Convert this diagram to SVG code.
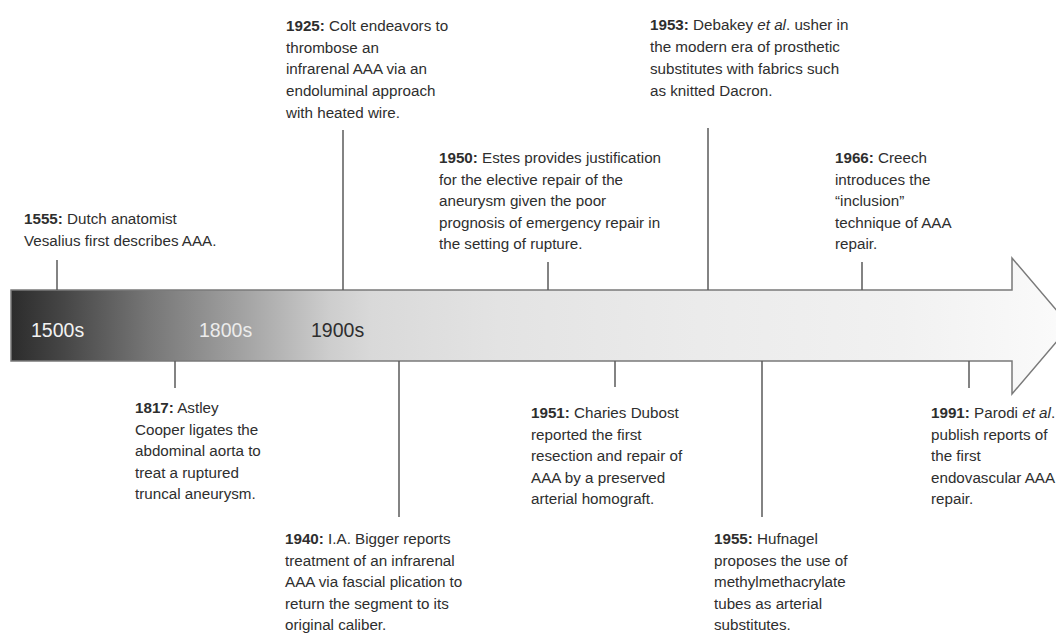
<svg xmlns="http://www.w3.org/2000/svg" width="1056" height="633" viewBox="0 0 1056 633">
<defs>
<linearGradient id="bar" gradientUnits="userSpaceOnUse" x1="11" y1="0" x2="1070" y2="0">
<stop offset="0" stop-color="#2c2c2c"/>
<stop offset="0.05" stop-color="#464646"/>
<stop offset="0.13" stop-color="#767676"/>
<stop offset="0.22" stop-color="#a3a3a3"/>
<stop offset="0.30" stop-color="#cdcdcd"/>
<stop offset="0.34" stop-color="#d9d9d9"/>
<stop offset="0.46" stop-color="#e3e3e3"/>
<stop offset="0.65" stop-color="#ebebeb"/>
<stop offset="0.84" stop-color="#f1f1f1"/>
<stop offset="0.94" stop-color="#f7f7f7"/>
<stop offset="1" stop-color="#fbfbfb"/>
</linearGradient>
<style>
.t{font-family:"Liberation Sans",Arial,sans-serif;font-size:15.2px;fill:#2e2e2e}
.b{font-weight:bold}
.i{font-style:italic}
.era{font-family:"Liberation Sans",Arial,sans-serif;font-size:19.5px}
.tick{stroke:#5a5a5a;stroke-width:1.5;fill:none}
</style>
</defs>
<rect width="1056" height="633" fill="#ffffff"/>
<g id="timeline-arrow">
<path d="M11,290 H1012 V258 L1070,326 L1012,394 V361 H11 Z" fill="url(#bar)" stroke="#7a7a7a" stroke-width="1.5"/>
<text class="era" x="31" y="337" fill="#f2f2f2">1500s</text>
<text class="era" x="199" y="337" fill="#ececec">1800s</text>
<text class="era" x="311" y="337" fill="#2e2e2e">1900s</text>
</g>
<g id="connectors">
<line class="tick" x1="57" y1="260" x2="57" y2="290"/>
<line class="tick" x1="343" y1="130" x2="343" y2="290"/>
<line class="tick" x1="548" y1="262" x2="548" y2="290"/>
<line class="tick" x1="708" y1="128" x2="708" y2="290"/>
<line class="tick" x1="862" y1="262" x2="862" y2="290"/>
<line class="tick" x1="175" y1="361" x2="175" y2="388"/>
<line class="tick" x1="399" y1="361" x2="399" y2="517"/>
<line class="tick" x1="615" y1="361" x2="615" y2="387"/>
<line class="tick" x1="762" y1="361" x2="762" y2="517"/>
<line class="tick" x1="969" y1="361" x2="969" y2="388"/>
</g>
<g id="e1555">
<text class="t" x="24" y="224"><tspan class="b">1555:</tspan> Dutch anatomist</text>
<text class="t" x="24" y="246">Vesalius first describes AAA.</text>
</g>
<g id="e1817">
<text class="t" x="135" y="413"><tspan class="b">1817:</tspan> Astley</text>
<text class="t" x="135" y="435">Cooper ligates the</text>
<text class="t" x="135" y="456">abdominal aorta to</text>
<text class="t" x="135" y="478">treat a ruptured</text>
<text class="t" x="135" y="499">truncal aneurysm.</text>
</g>
<g id="e1925">
<text class="t" x="286" y="31"><tspan class="b">1925:</tspan> Colt endeavors to</text>
<text class="t" x="286" y="53">thrombose an</text>
<text class="t" x="286" y="74">infrarenal AAA via an</text>
<text class="t" x="286" y="96">endoluminal approach</text>
<text class="t" x="286" y="118">with heated wire.</text>
</g>
<g id="e1940">
<text class="t" x="285" y="544"><tspan class="b">1940:</tspan> I.A. Bigger reports</text>
<text class="t" x="285" y="566">treatment of an infrarenal</text>
<text class="t" x="285" y="587">AAA via fascial plication to</text>
<text class="t" x="285" y="609">return the segment to its</text>
<text class="t" x="285" y="630">original caliber.</text>
</g>
<g id="e1950">
<text class="t" x="439" y="163"><tspan class="b">1950:</tspan> Estes provides justification</text>
<text class="t" x="439" y="185">for the elective repair of the</text>
<text class="t" x="439" y="206">aneurysm given the poor</text>
<text class="t" x="439" y="228">prognosis of emergency repair in</text>
<text class="t" x="439" y="249">the setting of rupture.</text>
</g>
<g id="e1951">
<text class="t" x="531" y="418"><tspan class="b">1951:</tspan> Charies Dubost</text>
<text class="t" x="531" y="440">reported the first</text>
<text class="t" x="531" y="461">resection and repair of</text>
<text class="t" x="531" y="483">AAA by a preserved</text>
<text class="t" x="531" y="504">arterial homograft.</text>
</g>
<g id="e1953">
<text class="t" x="650" y="30"><tspan class="b">1953:</tspan> Debakey <tspan class="i">et al</tspan>. usher in</text>
<text class="t" x="650" y="52">the modern era of prosthetic</text>
<text class="t" x="650" y="74">substitutes with fabrics such</text>
<text class="t" x="650" y="96">as knitted Dacron.</text>
</g>
<g id="e1955">
<text class="t" x="714" y="544"><tspan class="b">1955:</tspan> Hufnagel</text>
<text class="t" x="714" y="566">proposes the use of</text>
<text class="t" x="714" y="587">methylmethacrylate</text>
<text class="t" x="714" y="609">tubes as arterial</text>
<text class="t" x="714" y="630">substitutes.</text>
</g>
<g id="e1966">
<text class="t" x="835" y="163"><tspan class="b">1966:</tspan> Creech</text>
<text class="t" x="835" y="185">introduces the</text>
<text class="t" x="835" y="206">“inclusion”</text>
<text class="t" x="835" y="228">technique of AAA</text>
<text class="t" x="835" y="249">repair.</text>
</g>
<g id="e1991">
<text class="t" x="931" y="418"><tspan class="b">1991:</tspan> Parodi <tspan class="i">et al</tspan>.</text>
<text class="t" x="931" y="440">publish reports of</text>
<text class="t" x="931" y="461">the first</text>
<text class="t" x="931" y="483">endovascular AAA</text>
<text class="t" x="931" y="504">repair.</text>
</g>
</svg>
